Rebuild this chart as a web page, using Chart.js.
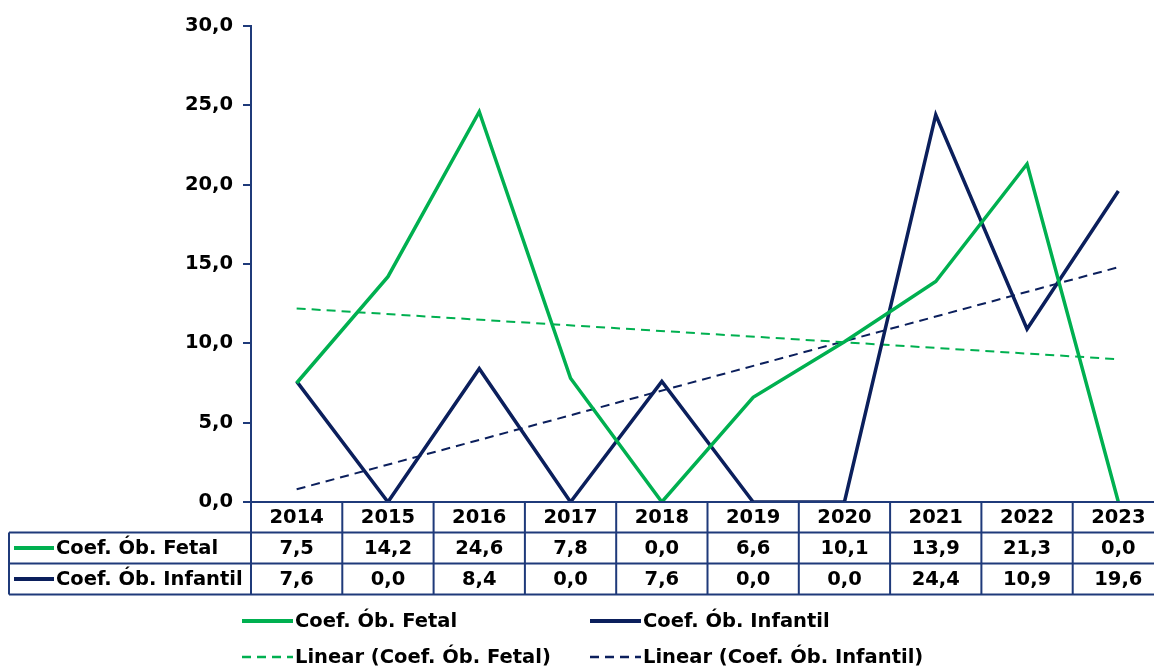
<!DOCTYPE html>
<html>
<head>
<meta charset="utf-8">
<script src="https://cdn.jsdelivr.net/npm/chart.js@4.4.0/dist/chart.umd.min.js"></script>
<style>
html,body{margin:0;padding:0;background:#fff;overflow:hidden;}
#wrap{position:relative;width:1164px;height:666px;}
</style>
</head>
<body>
<div id="wrap"><canvas id="c" width="1164" height="666"></canvas></div>
<script>
const years = ['2014','2015','2016','2017','2018','2019','2020','2021','2022','2023'];
const fetal = [7.5, 14.2, 24.6, 7.8, 0.0, 6.6, 10.1, 13.9, 21.3, 0.0];
const infantil = [7.6, 0.0, 8.4, 0.0, 7.6, 0.0, 0.0, 24.4, 10.9, 19.6];
const trendFetal = [12.2, null, null, null, null, null, null, null, null, 9.0];
const trendInfantil = [0.8, null, null, null, null, null, null, null, null, 14.8];
const yTicks = [0, 5, 10, 15, 20, 25, 30];

const GREEN = '#00B050';
const NAVY = '#0B1F5C';
const GRID = '#1F3A7A';
const FONT = '"DejaVu Sans", Verdana, sans-serif';
const FS = 19.5;

function fmt(v){ return v.toFixed(1).replace('.', ','); }

const tablePlugin = {
  id: 'tableLegend',
  afterDraw(chart){
    const ctx = chart.ctx;
    const x = chart.scales.x;
    const ca = chart.chartArea;
    const n = years.length;
    const centers = years.map((_, i) => x.getPixelForValue(i));
    const step = centers[1] - centers[0];
    const bounds = [];
    for (let i = 0; i <= n; i++) bounds.push(centers[0] - step / 2 + i * step);
    const top = ca.bottom, r1 = top + 30.5, r2 = r1 + 31, bot = r2 + 31;
    const leftX = 9;
    ctx.save();
    ctx.strokeStyle = GRID;
    ctx.lineWidth = 2;
    ctx.beginPath();
    ctx.moveTo(ca.left - 7, top); ctx.lineTo(bounds[n] + 2, top);
    [r1, r2, bot].forEach(y => { ctx.moveTo(leftX, y); ctx.lineTo(bounds[n] + 2, y); });
    ctx.moveTo(leftX, r1); ctx.lineTo(leftX, bot);
    bounds.forEach(b => { ctx.moveTo(b, top); ctx.lineTo(b, bot); });
    ctx.stroke();

    ctx.fillStyle = '#000';
    ctx.font = 'bold ' + FS + 'px ' + FONT;
    ctx.textAlign = 'center';
    ctx.textBaseline = 'middle';
    centers.forEach((cx, i) => {
      ctx.fillText(years[i], cx, (top + r1) / 2 + 1);
      ctx.fillText(fmt(fetal[i]), cx, (r1 + r2) / 2 + 1);
      ctx.fillText(fmt(infantil[i]), cx, (r2 + bot) / 2 + 1);
    });
    const ds = chart.data.datasets;
    ctx.textAlign = 'left';
    [[ds[0], (r1 + r2) / 2], [ds[1], (r2 + bot) / 2]].forEach(([d, y]) => {
      ctx.strokeStyle = d.borderColor;
      ctx.lineWidth = 4;
      ctx.setLineDash([]);
      ctx.beginPath(); ctx.moveTo(14, y); ctx.lineTo(54, y); ctx.stroke();
      ctx.fillText(d.label, 56, y + 1);
    });

    const items = [
      [ds[0], 242, 621], [ds[1], 590, 621],
      [ds[2], 242, 657], [ds[3], 590, 657]
    ];
    items.forEach(([d, lx, ly]) => {
      ctx.strokeStyle = d.borderColor;
      if (d.borderDash && d.borderDash.length) {
        ctx.lineWidth = 2.5;
        ctx.setLineDash([9, 6]);
      } else {
        ctx.lineWidth = 4;
        ctx.setLineDash([]);
      }
      ctx.beginPath(); ctx.moveTo(lx, ly); ctx.lineTo(lx + 51, ly); ctx.stroke();
      ctx.setLineDash([]);
      ctx.fillStyle = '#000';
      ctx.fillText(d.label, lx + 53, ly + 1);
    });
    ctx.restore();
  }
};

new Chart(document.getElementById('c'), {
  type: 'line',
  data: {
    labels: years,
    datasets: [
      { label: 'Coef. Ób. Fetal', data: fetal, borderColor: GREEN, borderWidth: 3.5, pointRadius: 0, tension: 0, fill: false },
      { label: 'Coef. Ób. Infantil', data: infantil, borderColor: NAVY, borderWidth: 3.5, pointRadius: 0, tension: 0, fill: false },
      { label: 'Linear (Coef. Ób. Fetal)', data: trendFetal, borderColor: GREEN, borderWidth: 2, borderDash: [9, 6], pointRadius: 0, spanGaps: true, fill: false },
      { label: 'Linear (Coef. Ób. Infantil)', data: trendInfantil, borderColor: NAVY, borderWidth: 2, borderDash: [9, 6], pointRadius: 0, spanGaps: true, fill: false }
    ]
  },
  options: {
    responsive: false,
    animation: false,
    layout: { padding: { top: 26, bottom: 164, left: 0, right: 0 } },
    plugins: { legend: { display: false }, tooltip: { enabled: false } },
    scales: {
      x: { display: false, offset: true },
      y: {
        min: 0, max: 30,
        afterBuildTicks(s){ s.ticks = yTicks.map(v => ({ value: v })); },
        afterFit(s){ s.width = 251; },
        border: { display: true, color: GRID, width: 2 },
        grid: { drawOnChartArea: false, drawTicks: true, tickLength: 8, color: GRID, lineWidth: 2 },
        ticks: {
          color: '#000', padding: 10,
          font: { family: FONT, size: FS, weight: 'bold' },
          callback: v => fmt(v)
        }
      }
    }
  },
  plugins: [tablePlugin]
});
</script>
</body>
</html>
